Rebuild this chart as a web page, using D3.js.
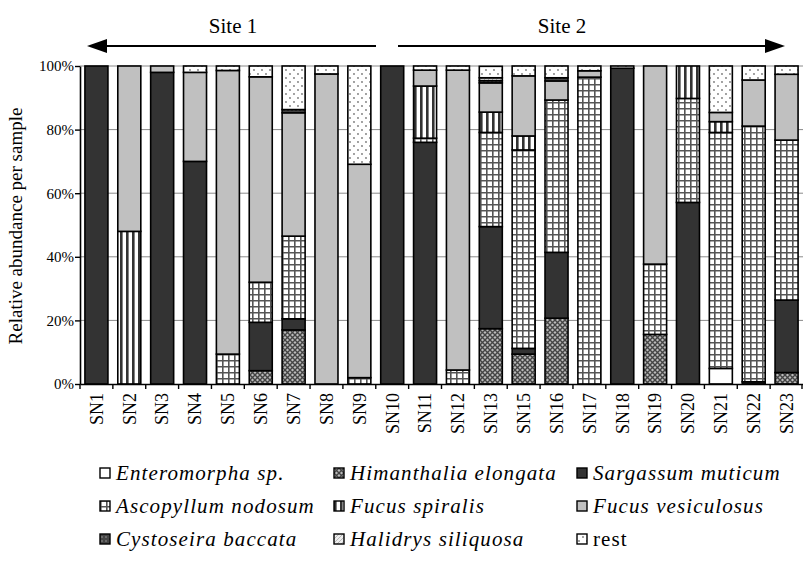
<!DOCTYPE html>
<html><head><meta charset="utf-8">
<script src="https://cdn.jsdelivr.net/npm/d3@7"></script>
<style>
body{margin:0;background:#fff;}
</style></head>
<body>
<svg id="chart" width="803" height="561"></svg>
<script>
const categories = ["SN1","SN2","SN3","SN4","SN5","SN6","SN7","SN8","SN9","SN10","SN11","SN12","SN13","SN15","SN16","SN17","SN18","SN19","SN20","SN21","SN22","SN23"];
const seriesNames = ["Enteromorpha sp.","Himanthalia elongata","Sargassum muticum","Ascopyllum nodosum","Fucus spiralis","Fucus vesiculosus","Cystoseira baccata","Halidrys siliquosa","rest"];
const enteromorpha = [0,0,0,0,0,0,0,0,0,0,0,0,0,0,0,0,0,0,0,4.9,0,0];
const himanthalia  = [0,0,0,0,0,4.2,17,0,0,0,0,0,17.4,9.4,20.7,0,0,15.6,0,0,0,3.6];
const sargassum    = [100,0,98,70,0,15.2,3.5,0,0,100,76,0,32.1,1.8,20.7,0,99.3,0,57.1,0,0.7,22.8];
const ascopyllum   = [0,0,0,0,9.4,12.6,26,0,2,0,1.3,4.4,29.6,62.4,47.9,96.5,0,22.1,32.7,74.2,80.4,50.3];
const fucusSpiralis= [0,48,0,0,0,0,0,0,0,0,16.4,0,6.4,4.4,0,0,0,0,10.2,3.4,0,0];
const fucusVesic   = [0,52,2,28,89.2,64.6,38.8,97.5,67.1,0,5,94.3,9.2,18.9,6,2,0,62.3,0,2.9,14.5,20.7];
const cystoseira   = [0,0,0,0,0,0,1,0,0,0,0,0,0.7,0,1,0,0,0,0,0,0,0];
const halidrys     = [0,0,0,0,0,0,0,0,0,0,0,0,0.9,0,0,0,0,0,0,0,0,0];
const rest         = [0,0,0,2,1.4,3.4,13.7,2.5,30.9,0,1.3,1.3,3.6,3.1,3.7,1.5,0.7,0,0,14.6,4.4,2.6];
const yTicks = [0,20,40,60,80,100];
const siteLabels = ["Site 1","Site 2"];

const FONT = "'Liberation Serif', 'Times New Roman', Times, serif";
const seriesValues = [enteromorpha,himanthalia,sargassum,ascopyllum,fucusSpiralis,fucusVesic,cystoseira,halidrys,rest];
const table = categories.map((c,i)=>{const o={cat:c}; seriesNames.forEach((s,j)=>o[s]=seriesValues[j][i]); return o;});

const svg = d3.select("#chart");
const defs = svg.append("defs");
const fills = {};
function pat(id,w,h,draw){const p=defs.append("pattern").attr("id",id).attr("patternUnits","userSpaceOnUse").attr("width",w).attr("height",h); draw(p); return `url(#${id})`;}
fills["Enteromorpha sp."] = "#fff";
fills["Himanthalia elongata"] = pat("p_him",5,5,p=>{p.append("rect").attr("width",5).attr("height",5).attr("fill","#bbb");p.append("path").attr("d","M0,0L5,5M5,0L0,5").attr("stroke","#444").attr("stroke-width",1.4);});
fills["Sargassum muticum"] = "#333";
fills["Ascopyllum nodosum"] = pat("p_asc",6,6,p=>{p.append("rect").attr("width",6).attr("height",6).attr("fill","#fff");p.append("path").attr("d","M0,0.8H6M0.8,0V6").attr("stroke","#555").attr("stroke-width",1.6);});
fills["Fucus spiralis"] = pat("p_fsp",6,6,p=>{p.append("rect").attr("width",6).attr("height",6).attr("fill","#fff");p.append("rect").attr("width",2.6).attr("height",6).attr("fill","#333");});
fills["Fucus vesiculosus"] = "#c0c0c0";
fills["Cystoseira baccata"] = pat("p_cys",4,4,p=>{p.append("rect").attr("width",4).attr("height",4).attr("fill","#444");p.append("rect").attr("x",1.5).attr("y",1.5).attr("width",1).attr("height",1).attr("fill","#ddd");});
fills["Halidrys siliquosa"] = pat("p_hal",4,4,p=>{p.append("rect").attr("width",4).attr("height",4).attr("fill","#eee");p.append("path").attr("d","M0,4L4,0").attr("stroke","#aaa").attr("stroke-width",0.8);});
fills["rest"] = pat("p_rest",8,8,p=>{p.append("rect").attr("width",8).attr("height",8).attr("fill","#fff");p.append("circle").attr("cx",2).attr("cy",2).attr("r",0.9).attr("fill","#777");p.append("circle").attr("cx",6).attr("cy",6).attr("r",0.9).attr("fill","#777");});

const pLeft=80, pRight=803, pTop=66, pBottom=384;
const x = d3.scaleBand().domain(categories).range([pLeft,pRight]).paddingInner(0.3).paddingOuter(0.15);
const y = d3.scaleLinear().domain([0,100]).range([pBottom,pTop]);

// gridlines
svg.append("g").selectAll("line").data(yTicks.filter(d=>d>0)).join("line")
  .attr("x1",pLeft).attr("x2",pRight).attr("y1",d=>y(d)).attr("y2",d=>y(d))
  .attr("stroke","#8a8a8a").attr("stroke-width",1);

// bars
const stack = d3.stack().keys(seriesNames)(table);
const g = svg.append("g");
stack.forEach(layer=>{
  g.append("g").selectAll("rect").data(layer.filter(d=>d[1]-d[0]>0)).join("rect")
   .attr("x",d=>x(d.data.cat)).attr("width",x.bandwidth())
   .attr("y",d=>y(d[1])).attr("height",d=>y(d[0])-y(d[1]))
   .attr("fill",fills[layer.key]).attr("stroke","#000").attr("stroke-width",1.6);
});

// y axis
const yAxis = svg.append("g").attr("transform",`translate(${pLeft},0)`)
  .call(d3.axisLeft(y).tickValues(yTicks).tickFormat(d=>d+"%").tickSize(5).tickSizeOuter(0));
yAxis.attr("font-family",null).attr("font-size",null);
yAxis.select(".domain").attr("stroke","#000").attr("stroke-width",1.6);
yAxis.selectAll(".tick line").attr("stroke","#000").attr("stroke-width",1.4);
yAxis.selectAll(".tick text").style("font-family",FONT).style("font-size","15px").attr("x",-6).attr("fill","#000");

// x axis
const xAxis = svg.append("g").attr("transform",`translate(0,${pBottom})`)
  .call(d3.axisBottom(x).tickSize(0).tickSizeOuter(0));
xAxis.attr("font-family",null).attr("font-size",null);
xAxis.select(".domain").attr("stroke","#000").attr("stroke-width",1.6);
xAxis.selectAll(".tick text").style("font-family",FONT).style("font-size","18px").attr("fill","#000")
  .attr("transform","rotate(-90)").attr("text-anchor","end").attr("x",-9).attr("y",0).attr("dy","0.35em");
const bounds = categories.map(c=>x(c)-x.step()*x.paddingInner()/2).concat([pRight-1]);
svg.append("g").selectAll("line").data(bounds).join("line")
  .attr("x1",d=>d).attr("x2",d=>d).attr("y1",pBottom).attr("y2",pBottom+5)
  .attr("stroke","#000").attr("stroke-width",1.4);

// y title
svg.append("text").attr("transform","translate(22,226) rotate(-90)").attr("text-anchor","middle")
  .style("font-family",FONT).style("font-size","19px").text("Relative abundance per sample");

// site arrows
const ay = 46;
svg.append("line").attr("x1",100).attr("x2",376).attr("y1",ay).attr("y2",ay).attr("stroke","#000").attr("stroke-width",2.2);
svg.append("line").attr("x1",398).attr("x2",772).attr("y1",ay).attr("y2",ay).attr("stroke","#000").attr("stroke-width",2.2);
svg.append("path").attr("d",`M87,${ay}L107,${ay-7}L107,${ay+7}Z`).attr("fill","#000");
svg.append("path").attr("d",`M785,${ay}L765,${ay-7}L765,${ay+7}Z`).attr("fill","#000");
svg.append("text").attr("x",233).attr("y",33).attr("text-anchor","middle").style("font-family",FONT).style("font-size","21px").text(siteLabels[0]);
svg.append("text").attr("x",562).attr("y",33).attr("text-anchor","middle").style("font-family",FONT).style("font-size","21px").text(siteLabels[1]);

// legend
const colX = [100,334,577], rowY=[473,506,539];
const lg = svg.append("g").selectAll("g").data(seriesNames).join("g")
  .attr("transform",(d,i)=>`translate(${colX[i%3]},${rowY[Math.floor(i/3)]})`);
lg.append("rect").attr("x",0).attr("y",-5).attr("width",10).attr("height",10).attr("fill",d=>fills[d]).attr("stroke","#000").attr("stroke-width",1.4);
lg.append("text").attr("x",16).attr("y",0).attr("dy","0.35em")
  .style("font-family",FONT).style("font-size","21px").style("letter-spacing","1.1px")
  .style("font-style",d=>d==="rest"?"normal":"italic").text(d=>d);
</script>
</body></html>
